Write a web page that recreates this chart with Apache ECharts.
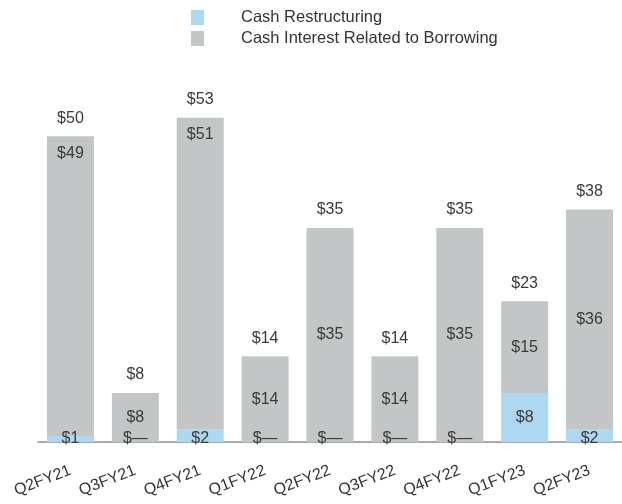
<html>
<head>
<meta http-equiv="Content-Type" content="text/html; charset=utf-8">
<script type="text/javascript" src="https://cdn.jsdelivr.net/npm/echarts@6/dist/echarts.min.js"></script>
<style>
html, body { margin: 0; padding: 0; background: #fff; }
#main { width: 622px; height: 504px; }
</style>
</head>
<body>
<div id="main"></div>
<script type="text/javascript">
var quarters = ['Q2FY21','Q3FY21','Q4FY21','Q1FY22','Q2FY22','Q3FY22','Q4FY22','Q1FY23','Q2FY23'];
var restructuring = [1, 0, 2, 0, 0, 0, 0, 8, 2];
var interest = [49, 8, 51, 14, 35, 14, 35, 15, 36];
var totals = [50, 8, 53, 14, 35, 14, 35, 23, 38];

var font = 'Liberation Sans, Arial, sans-serif';
var txt = '#3a3a3a';

function money(v) { return v === 0 ? '$\u2014' : '$' + v; }

// interest labels: tall bars with small restructuring have label near top
var interestData = interest.map(function (v, i) {
	if (i === 0 || i === 2) {
		return { value: v, label: { position: 'insideTop', distance: 9 } };
	}
	return v;
});
var restructData = restructuring.map(function (v) {
	if (v >= 5) return { value: v, label: { position: 'inside' } };
	return v;
});

var myChart = echarts.init(document.getElementById('main'));
myChart.setOption({
	animation: false,
	legend: {
		data: ['Cash Restructuring', 'Cash Interest Related to Borrowing'],
		orient: 'vertical',
		left: 186,
		top: 4,
		itemWidth: 13,
		itemHeight: 15,
		itemGap: 4,
		icon: 'rect',
		textStyle: { fontFamily: font, fontSize: 16.5, color: '#333', padding: [0, 0, 0, 32] }
	},
	grid: { left: 38, width: 588, top: 75, bottom: 62 },
	xAxis: {
		type: 'category',
		data: quarters,
		axisLine: { lineStyle: { color: '#8f8f8f', width: 1.5 } },
		axisTick: { show: false },
		axisLabel: { interval: 0, rotate: 21, margin: 28, fontFamily: font, fontSize: 16, color: '#333' }
	},
	yAxis: { type: 'value', min: 0, max: 60, show: false, splitLine: { show: false } },
	series: [
		{
			name: 'Cash Restructuring',
			type: 'bar',
			stack: 'cash',
			barWidth: 47,
			itemStyle: { color: '#acd8f1' },
			label: {
				show: true, position: 'insideBottom', distance: -5,
				fontFamily: font, fontSize: 16, color: txt,
				formatter: function (p) { return money(p.value); }
			},
			data: restructData
		},
		{
			name: 'Cash Interest Related to Borrowing',
			type: 'bar',
			stack: 'cash',
			barWidth: 47,
			itemStyle: { color: '#c3c6c6' },
			label: {
				show: true, position: 'inside',
				fontFamily: font, fontSize: 16, color: txt,
				formatter: function (p) { return money(p.value); }
			},
			data: interestData
		},
		{
			name: 'total',
			type: 'bar',
			stack: 'cash',
			barWidth: 47,
			itemStyle: { color: 'transparent' },
			label: {
				show: true, position: 'top', distance: 10,
				fontFamily: font, fontSize: 16, color: txt,
				formatter: function (p) { return money(totals[p.dataIndex]); }
			},
			data: totals.map(function () { return 0; })
		}
	]
});
</script>
</body>
</html>
